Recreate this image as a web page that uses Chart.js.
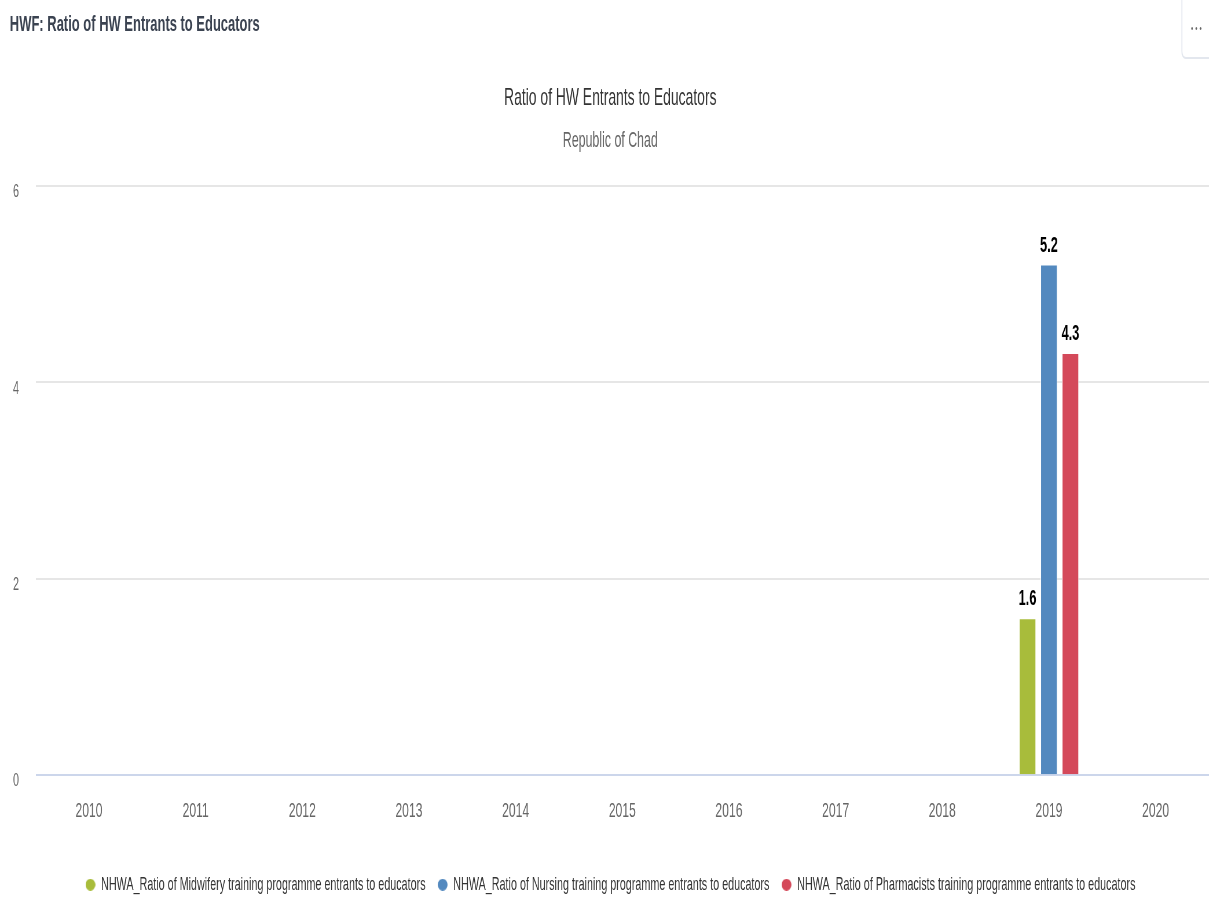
<!DOCTYPE html>
<html>
<head>
<meta charset="utf-8">
<title>HWF: Ratio of HW Entrants to Educators</title>
<script src="https://cdn.jsdelivr.net/npm/chart.js@4.4.1/dist/chart.umd.min.js"></script>
<style>
    html, body {
        margin: 0;
        padding: 0;
        background: #ffffff;
        overflow: hidden;
    }
    /* the whole panel is drawn wide and then squeezed to the narrow look */
    #panel {
        position: absolute;
        left: 0;
        top: 0;
        width: 2088px;
        height: 920px;
        transform: scaleX(0.579);
        transform-origin: 0 0;
        font-family: "Liberation Sans", Arial, sans-serif;
    }
    #page-title {
        position: absolute;
        left: 17px;
        top: 13px;
        font-size: 22.4px;
        line-height: 22.4px;
        font-weight: bold;
        color: #3b4351;
        white-space: nowrap;
    }
    #menu-button {
        position: absolute;
        left: 2040px;
        top: -2px;
        width: 60px;
        height: 61px;
        border-left: 2px solid #e3e7ee;
        border-bottom: 2px solid #e3e7ee;
        border-bottom-left-radius: 8px;
        box-sizing: border-box;
    }
    #menu-button span {
        position: absolute;
        left: 15px;
        top: 24px;
        font-size: 11px;
        letter-spacing: 3.5px;
        color: #666666;
    }
    #hwfChart {
        position: absolute;
        left: 0;
        top: 0;
    }
</style>
</head>
<body>
<div id="panel">
    <div id="page-title">HWF: Ratio of HW Entrants to Educators</div>
    <div id="menu-button"><span>•••</span></div>
    <canvas id="hwfChart" width="2088" height="920"></canvas>
</div>

<script>
// Years on the x axis
const years = ['2010', '2011', '2012', '2013', '2014', '2015', '2016', '2017', '2018', '2019', '2020'];

// Only 2019 has values reported
const midwifery = [null, null, null, null, null, null, null, null, null, 1.6, null];
const nursing = [null, null, null, null, null, null, null, null, null, 5.2, null];
const pharmacists = [null, null, null, null, null, null, null, null, null, 4.3, null];

const seriesNames = [
    'NHWA_Ratio of Midwifery training programme entrants to educators',
    'NHWA_Ratio of Nursing training programme entrants to educators',
    'NHWA_Ratio of Pharmacists training programme entrants to educators'
];
const seriesColors = ['#a8bc3b', '#5389bf', '#d4495a'];

const yTicks = [0, 2, 4, 6];

const fontFamily = '"Liberation Sans", Arial, sans-serif';

// Small ellipse used as legend marker (looks round once squeezed)
function makeMarker(color) {
    const c = document.createElement('canvas');
    c.width = 17;
    c.height = 12;
    const g = c.getContext('2d');
    g.fillStyle = color;
    g.beginPath();
    g.ellipse(8.5, 6, 8.5, 6, 0, 0, Math.PI * 2);
    g.fill();
    return c;
}

// Values written above each bar, black with a white outline
const barValueLabels = {
    id: 'barValueLabels',
    afterDatasetsDraw(chart) {
        const ctx = chart.ctx;
        ctx.save();
        ctx.font = 'bold 22px ' + fontFamily;
        ctx.textAlign = 'center';
        ctx.textBaseline = 'alphabetic';
        ctx.lineJoin = 'round';
        ctx.lineWidth = 3;
        ctx.strokeStyle = '#ffffff';
        ctx.fillStyle = '#000000';
        chart.data.datasets.forEach((ds, i) => {
            const meta = chart.getDatasetMeta(i);
            meta.data.forEach((bar, j) => {
                const v = ds.data[j];
                if (v === null || v === undefined) return;
                const text = v.toFixed(1);
                ctx.strokeText(text, bar.x, bar.y - 13);
                ctx.fillText(text, bar.x, bar.y - 13);
            });
        });
        ctx.restore();
    }
};

document.addEventListener('DOMContentLoaded', function() {
    const ctx = document.getElementById('hwfChart').getContext('2d');
    const seriesData = [midwifery, nursing, pharmacists];

    new Chart(ctx, {
        type: 'bar',
        data: {
            labels: years,
            datasets: seriesData.map((d, i) => ({
                label: seriesNames[i],
                data: d,
                backgroundColor: seriesColors[i],
                borderColor: '#ffffff',
                borderWidth: 1,
                categoryPercentage: 0.603,
                barPercentage: 0.79
            }))
        },
        options: {
            responsive: false,
            devicePixelRatio: 1,
            animation: false,
            layout: {
                padding: { top: 0, left: 20, right: 0, bottom: 16 }
            },
            plugins: {
                title: {
                    display: true,
                    text: 'Ratio of HW Entrants to Educators',
                    color: '#333333',
                    font: { family: fontFamily, size: 24, weight: 'normal' },
                    padding: { top: 83.6, bottom: 0 }
                },
                subtitle: {
                    display: true,
                    text: 'Republic of Chad',
                    color: '#666666',
                    font: { family: fontFamily, size: 21.4 },
                    padding: { top: 15.7, bottom: 32.2 }
                },
                legend: {
                    display: true,
                    position: 'bottom',
                    labels: {
                        usePointStyle: true,
                        pointStyleWidth: 18.2,
                        padding: 20.4,
                        color: '#333333',
                        font: { family: fontFamily, size: 18.6 },
                        generateLabels(chart) {
                            const items = Chart.defaults.plugins.legend.labels.generateLabels(chart);
                            items.forEach(item => {
                                item.pointStyle = makeMarker(seriesColors[item.datasetIndex]);
                            });
                            return items;
                        }
                    }
                },
                tooltip: { enabled: false }
            },
            scales: {
                x: {
                    offset: true,
                    grid: { display: false, drawTicks: false },
                    border: { display: false },
                    ticks: {
                        color: '#666666',
                        padding: 23.4,
                        autoSkip: false,
                        maxRotation: 0,
                        font: { family: fontFamily, size: 21 }
                    },
                    afterFit(scale) {
                        scale.height = 79.7;
                    }
                },
                y: {
                    min: 0,
                    max: 6,
                    afterBuildTicks(scale) {
                        scale.ticks = yTicks.map(v => ({ value: v }));
                    },
                    grid: {
                        drawTicks: false,
                        lineWidth: 2,
                        color: c => (c.tick && c.tick.value === 0 ? '#ccd6eb' : '#e6e6e6')
                    },
                    border: { display: false },
                    ticks: {
                        color: '#666666',
                        padding: 28.7,
                        labelOffset: 6,
                        font: { family: fontFamily, size: 18.5 }
                    },
                    afterFit(scale) {
                        scale.width = 41.5;
                    }
                }
            }
        },
        plugins: [barValueLabels]
    });
});
</script>
</body>
</html>
